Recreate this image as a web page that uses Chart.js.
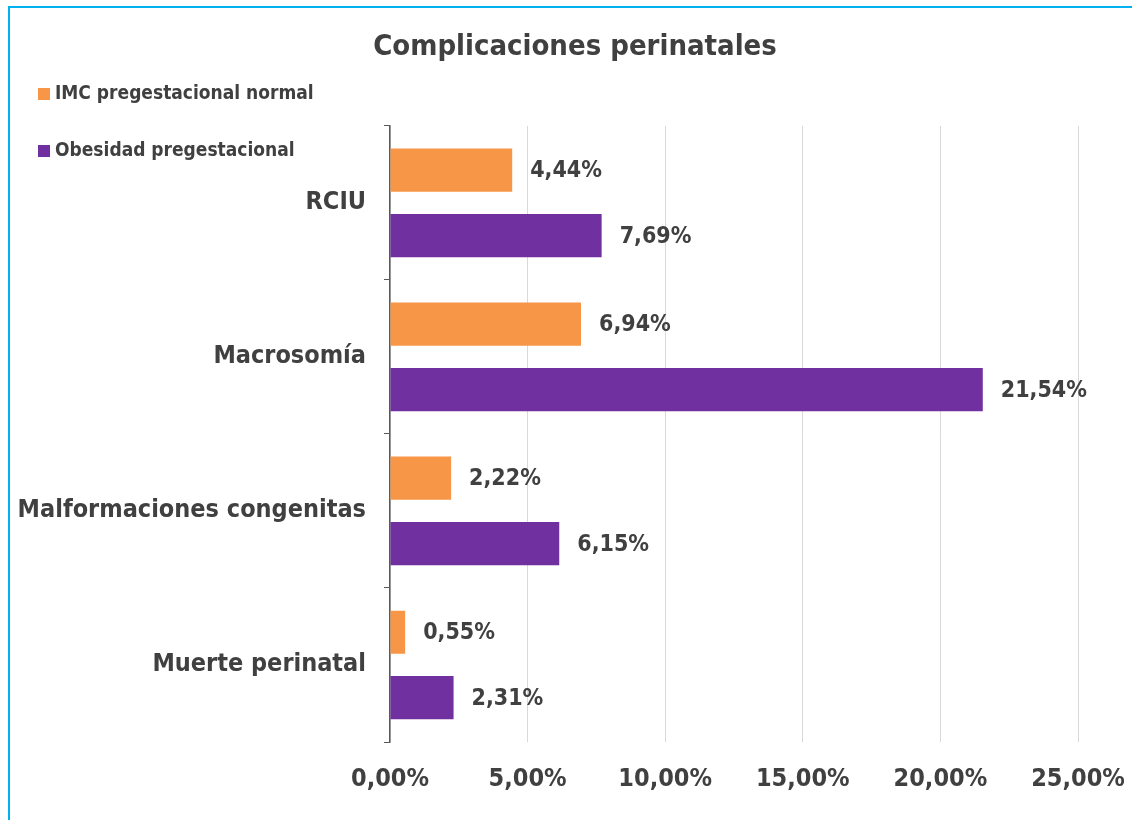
<!DOCTYPE html>
<html>
<head>
<meta charset="utf-8">
<script src="https://cdn.jsdelivr.net/npm/chart.js@4.4.1/dist/chart.umd.min.js"></script>
<style>
  html, body { margin: 0; padding: 0; background: #fff; }
  #frame { position: absolute; left: 8px; top: 6px; width: 1200px; height: 900px;
           border-top: 2px solid #00B0F0; border-left: 2px solid #00B0F0; }
  #wrap { position: absolute; left: 0; top: 0; width: 1132px; height: 820px; }
</style>
</head>
<body>
<div id="frame"></div>
<div id="wrap"><canvas id="chart" width="1132" height="820"></canvas></div>
<script>
const categories = ["RCIU", "Macrosomía", "Malformaciones congenitas", "Muerte perinatal"];
const seriesNames = ["IMC pregestacional normal", "Obesidad pregestacional"];
const normalValues = [4.44, 6.94, 2.22, 0.55];
const obesidadValues = [7.69, 21.54, 6.15, 2.31];
const xTicks = [0, 5, 10, 15, 20, 25];

const FONT = "'DejaVu Sans Condensed', 'DejaVu Sans', sans-serif";
const TEXT = "#404040";
const fmt = (v) => v.toFixed(2).replace(".", ",") + "%";

// value labels to the right of each bar
const barLabels = {
  id: "barLabels",
  afterDatasetsDraw(chart) {
    const ctx = chart.ctx;
    ctx.save();
    ctx.font = "bold 23px " + FONT;
    ctx.fillStyle = TEXT;
    ctx.textBaseline = "middle";
    chart.data.datasets.forEach((ds, i) => {
      chart.getDatasetMeta(i).data.forEach((bar, j) => {
        ctx.fillText(fmt(ds.data[j]), bar.x + 18, bar.y + 1);
      });
    });
    ctx.restore();
  }
};

// stacked legend in the top-left corner
const sideLegend = {
  id: "sideLegend",
  afterDraw(chart) {
    const ctx = chart.ctx;
    ctx.save();
    ctx.font = "bold 19px " + FONT;
    ctx.textBaseline = "middle";
    chart.data.datasets.forEach((ds, i) => {
      const y = 94 + i * 57;
      ctx.fillStyle = ds.backgroundColor;
      ctx.fillRect(38, y - 6, 12, 12);
      ctx.fillStyle = TEXT;
      ctx.fillText(ds.label, 55, y);
    });
    ctx.restore();
  }
};

new Chart(document.getElementById("chart"), {
  type: "bar",
  data: {
    labels: categories,
    datasets: [
      { label: seriesNames[0], data: normalValues, backgroundColor: "#F79646",
        categoryPercentage: 0.85, barPercentage: 0.66 },
      { label: seriesNames[1], data: obesidadValues, backgroundColor: "#7030A0",
        categoryPercentage: 0.85, barPercentage: 0.66 }
    ]
  },
  options: {
    indexAxis: "y",
    responsive: false,
    animation: false,
    layout: { padding: { left: 18, right: 0, top: 0, bottom: 4 } },
    plugins: {
      legend: { display: false },
      tooltip: { enabled: false },
      title: {
        display: true,
        text: "Complicaciones perinatales",
        color: TEXT,
        font: { family: FONT, size: 29, weight: "bold" },
        padding: { top: 30, bottom: 61 }
      }
    },
    scales: {
      x: {
        min: 0,
        max: 25,
        afterBuildTicks: (scale) => { scale.ticks = xTicks.map((v) => ({ value: v })); },
        afterFit: (scale) => { scale.paddingRight = 54; },
        ticks: {
          callback: (v) => fmt(v),
          color: TEXT,
          font: { family: FONT, size: 25, weight: "bold" },
          padding: 22,
          maxRotation: 0
        },
        grid: { color: "#D9D9D9", drawTicks: false, lineWidth: 1 },
        border: { display: false }
      },
      y: {
        afterFit: (scale) => { scale.width = 372; },
        ticks: {
          color: TEXT,
          font: { family: FONT, size: 25, weight: "bold" },
          padding: 18
        },
        grid: { drawOnChartArea: false, tickLength: 6, color: "#595959", offset: true },
        border: { color: "#595959", width: 1.5 }
      }
    }
  },
  plugins: [barLabels, sideLegend]
});
</script>
</body>
</html>
